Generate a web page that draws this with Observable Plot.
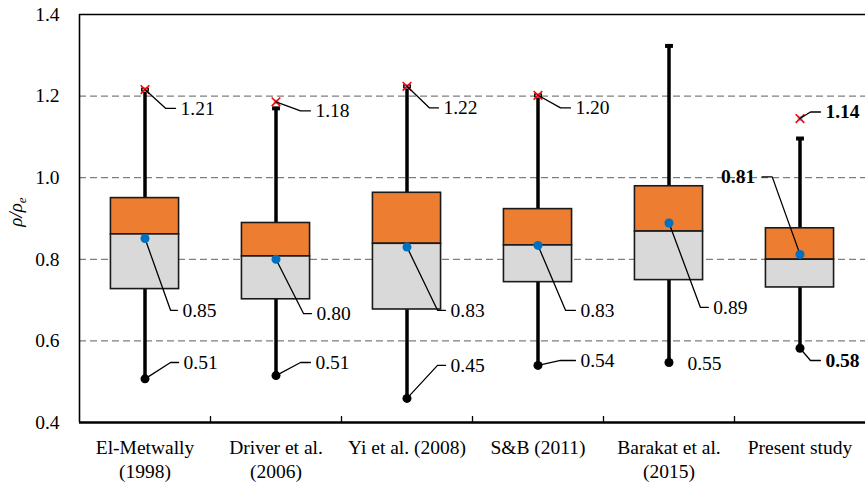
<!DOCTYPE html>
<html>
<head>
<meta charset="utf-8">
<script src="https://cdn.jsdelivr.net/npm/d3@7"></script>
<script src="https://cdn.jsdelivr.net/npm/@observablehq/plot@0.6"></script>
<style>
  html, body { margin: 0; padding: 0; background: #fff; }
  #chart { width: 865px; height: 485px; }
</style>
</head>
<body>
<div id="chart"></div>
<script>
// ---- data ----
const categories = ["El-Metwally\n(1998)", "Driver et al.\n(2006)", "Yi et al. (2008)", "S&B (2011)", "Barakat et al.\n(2015)", "Present study"];
const q1        = [0.727, 0.702, 0.677, 0.744, 0.749, 0.731];
const median    = [0.861, 0.807, 0.838, 0.834, 0.868, 0.799];
const q3        = [0.950, 0.889, 0.963, 0.923, 0.979, 0.876];
const whiskerLo = [0.507, 0.515, 0.459, 0.540, 0.547, 0.582];
const whiskerHi = [1.216, 1.170, 1.224, 1.202, 1.323, 1.096];
const means     = [0.851, 0.800, 0.830, 0.834, 0.889, 0.812];
const maxPoints = [1.216, 1.186, 1.224, 1.202, null, 1.145];
const meanLabels = ["0.85", "0.80", "0.83", "0.83", "0.89", "0.81"];
const maxLabels  = ["1.21", "1.18", "1.22", "1.20", null, "1.14"];
const minLabels  = ["0.51", "0.51", "0.45", "0.54", "0.55", "0.58"];
const yTicks = [0.4, 0.6, 0.8, 1.0, 1.2, 1.4];
const gridValues = [0.6, 0.8, 1.0, 1.2];

// ---- annotation layout (leader line elbows / label positions) ----
// kind: which value the leader starts from; ex1 = elbow x offset, ey = label level, ex2 = end x offset
const annotLayout = [
  {i: 0, kind: "max",  ex1: 0.157, ey: 1.170, ex2: 0.233},
  {i: 0, kind: "mean", ex1: 0.195, ey: 0.675, ex2: 0.248},
  {i: 0, kind: "min",  ex1: 0.195, ey: 0.547, ex2: 0.256},
  {i: 1, kind: "max",  ex1: 0.187, ey: 1.164, ex2: 0.263},
  {i: 1, kind: "mean", ex1: 0.210, ey: 0.667, ex2: 0.271},
  {i: 1, kind: "min",  ex1: 0.187, ey: 0.547, ex2: 0.263},
  {i: 2, kind: "max",  ex1: 0.172, ey: 1.171, ex2: 0.240},
  {i: 2, kind: "mean", ex1: 0.233, ey: 0.675, ex2: 0.294},
  {i: 2, kind: "min",  ex1: 0.233, ey: 0.540, ex2: 0.294},
  {i: 3, kind: "max",  ex1: 0.172, ey: 1.171, ex2: 0.248},
  {i: 3, kind: "mean", ex1: 0.210, ey: 0.675, ex2: 0.286},
  {i: 3, kind: "min",  ex1: 0.172, ey: 0.552, ex2: 0.286},
  {i: 4, kind: "mean", ex1: 0.240, ey: 0.682, ex2: 0.300},
  {i: 4, kind: "min",  ex1: null,  ey: 0.545, ex2: 0.103},
  {i: 5, kind: "max",  ex1: 0.080, ey: 1.161, ex2: 0.156, bold: true},
  {i: 5, kind: "mean", ex1: -0.212, ey: 1.002, ex2: -0.289, bold: true},
  {i: 5, kind: "min",  ex1: 0.080, ey: 0.552, ex2: 0.156, bold: true}
];

const boxHalf = 0.26;
const capHalf = 0.03;
const font = "'Liberation Serif', 'Times New Roman', serif";
const fs = 19.5;

const idx = categories.map((_, i) => i);
const boxes = idx.map(i => ({i, q1: q1[i], med: median[i], q3: q3[i], lo: whiskerLo[i], hi: whiskerHi[i], mean: means[i], max: maxPoints[i]}));
const outliers = boxes.filter(d => d.max != null);

const anchorValue = a => a.kind === "max" ? maxPoints[a.i] : a.kind === "mean" ? means[a.i] : whiskerLo[a.i];
const labelText = a => a.kind === "max" ? maxLabels[a.i] : a.kind === "mean" ? meanLabels[a.i] : minLabels[a.i];

const leaderPts = [];
annotLayout.forEach((a, k) => {
  if (a.ex1 == null) return;
  leaderPts.push({k, x: a.i, y: anchorValue(a)});
  leaderPts.push({k, x: a.i + a.ex1, y: a.ey});
  leaderPts.push({k, x: a.i + a.ex2, y: a.ey});
});
const labels = annotLayout.map(a => ({
  x: a.i + a.ex2, y: a.ey, text: labelText(a), bold: !!a.bold,
  anchor: a.ex2 < 0 ? "end" : "start"
}));

const boundaries = [0.5, 1.5, 2.5, 3.5, 4.5];

const plot = Plot.plot({
  width: 865,
  height: 485,
  marginLeft: 79,
  marginRight: 0,
  marginTop: 14,
  marginBottom: 63,
  style: {fontFamily: font, fontSize: fs + "px", background: "#fff", overflow: "visible"},
  x: {domain: [-0.5, 5.5], axis: null},
  y: {domain: [0.4, 1.4], axis: null},
  marks: [
    Plot.ruleY(gridValues, {stroke: "#7f7f7f", strokeWidth: 1.3, strokeDasharray: "7,4"}),
    // whiskers
    Plot.ruleX(boxes, {x: "i", y1: "lo", y2: "hi", stroke: "#000", strokeWidth: 3.5}),
    Plot.link(boxes, {x1: d => d.i - capHalf, x2: d => d.i + capHalf, y1: "hi", y2: "hi", stroke: "#000", strokeWidth: 4}),
    Plot.dot(boxes, {x: "i", y: "lo", r: 4.5, fill: "#000"}),
    // boxes
    Plot.rect(boxes, {x1: d => d.i - boxHalf, x2: d => d.i + boxHalf, y1: "med", y2: "q3", fill: "#ED7D31", stroke: "#1a1a1a", strokeWidth: 1.6}),
    Plot.rect(boxes, {x1: d => d.i - boxHalf, x2: d => d.i + boxHalf, y1: "q1", y2: "med", fill: "#D9D9D9", stroke: "#1a1a1a", strokeWidth: 1.6}),
    // outlier markers
    Plot.dot(outliers, {x: "i", y: "max", r: 2.5, fill: "#9DC3E6"}),
    Plot.dot(outliers, {x: "i", y: "max", symbol: "times", r: 4, stroke: "#FF0000", strokeWidth: 1.6}),
    // leader lines
    Plot.line(leaderPts, {x: "x", y: "y", z: "k", stroke: "#000", strokeWidth: 1.3}),
    // mean dots
    Plot.dot(boxes, {x: "i", y: "mean", r: 4.5, fill: "#0070C0"}),
    // labels
    Plot.text(labels.filter(d => !d.bold), {x: "x", y: "y", text: "text", textAnchor: "start", dx: 5, fill: "#000", fontSize: fs}),
    Plot.text(labels.filter(d => d.bold && d.anchor === "start"), {x: "x", y: "y", text: "text", textAnchor: "start", dx: 5, fontWeight: "bold", fill: "#000", fontSize: fs}),
    Plot.text(labels.filter(d => d.bold && d.anchor === "end"), {x: "x", y: "y", text: "text", textAnchor: "end", dx: -7, fontWeight: "bold", fill: "#000", fontSize: fs}),
    // frame (left, top, bottom)
    Plot.ruleX([-0.5], {stroke: "#000", strokeWidth: 1.6}),
    Plot.ruleY([1.4], {stroke: "#000", strokeWidth: 1.6}),
    Plot.ruleY([0.4], {stroke: "#000", strokeWidth: 2.5}),
    // axes
    Plot.axisY(yTicks, {anchor: "left", tickSize: 0, tickPadding: 20, tickFormat: d3.format(".1f"), fontSize: fs, fill: "#000"}),
    Plot.axisX(boundaries, {anchor: "bottom", tickSize: -6, tickFormat: () => "", stroke: "#000", strokeWidth: 1.3}),
    Plot.text(categories, {x: (d, i) => i, frameAnchor: "bottom", lineAnchor: "top", dy: 15, lineHeight: 1.22, text: d => d, fill: "#000", fontSize: fs})
  ]
});

document.getElementById("chart").appendChild(plot);

// y-axis title with subscript
const svg = d3.select(plot);
const t = svg.append("text")
  .attr("transform", "translate(22,212) rotate(-90)")
  .attr("text-anchor", "middle")
  .attr("font-family", font)
  .attr("font-style", "italic")
  .attr("font-size", 19)
  .attr("fill", "#000");
t.append("tspan").text("ρ/ρ");
t.append("tspan").attr("font-size", 13).attr("dy", 4).text("e");
</script>
</body>
</html>
